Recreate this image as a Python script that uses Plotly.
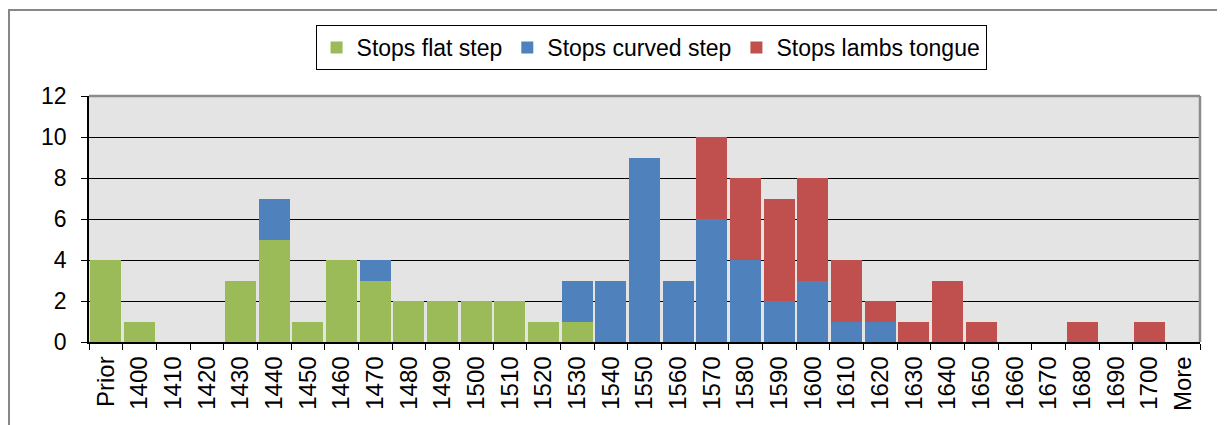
import plotly.graph_objects as go

categories = ["Prior", "1400", "1410", "1420", "1430", "1440", "1450", "1460", "1470",
              "1480", "1490", "1500", "1510", "1520", "1530", "1540", "1550", "1560",
              "1570", "1580", "1590", "1600", "1610", "1620", "1630", "1640", "1650",
              "1660", "1670", "1680", "1690", "1700", "More"]

flat_step = [4, 1, 0, 0, 3, 5, 1, 4, 3, 2, 2, 2, 2, 1, 1, 0, 0, 0,
             0, 0, 0, 0, 0, 0, 0, 0, 0, 0, 0, 0, 0, 0, 0]
curved_step = [0, 0, 0, 0, 0, 2, 0, 0, 1, 0, 0, 0, 0, 0, 2, 3, 9, 3,
               6, 4, 2, 3, 1, 1, 0, 0, 0, 0, 0, 0, 0, 0, 0]
lambs_tongue = [0, 0, 0, 0, 0, 0, 0, 0, 0, 0, 0, 0, 0, 0, 0, 0, 0, 0,
                4, 4, 5, 5, 3, 1, 1, 3, 1, 0, 0, 1, 0, 1, 0]

series_names = ["Stops flat step", "Stops curved step", "Stops lambs tongue"]
series_colors = ["#9BBB59", "#4F81BD", "#C0504D"]
y_ticks = [0, 2, 4, 6, 8, 10, 12]

fig = go.Figure()
for name, vals, col in zip(series_names, [flat_step, curved_step, lambs_tongue], series_colors):
    fig.add_trace(go.Bar(x=categories, y=vals, name=name,
                         marker=dict(color=col, line=dict(width=0))))

FONT = "Liberation Sans, Arial, sans-serif"

fig.update_layout(
    width=1217, height=417,
    barmode="stack", bargap=0.07,
    paper_bgcolor="white", plot_bgcolor="#e4e4e4",
    margin=dict(l=81, r=25, t=88, b=83, autoexpand=False),
    font=dict(family=FONT, color="black", size=22),
    showlegend=True,
    legend=dict(orientation="h", x=0.5059, xanchor="center", y=1.2886, yanchor="top",
                bordercolor="black", borderwidth=1, bgcolor="white",
                font=dict(size=23, family=FONT), traceorder="normal",
                itemwidth=30, tracegroupgap=0),
    xaxis=dict(type="category", tickangle=-90, tickson="boundaries",
               ticks="outside", ticklen=6, tickcolor="black", tickwidth=1,
               showline=True, linecolor="black", linewidth=1.5,
               tickfont=dict(size=24, family=FONT), showgrid=False,
               ticklabelstandoff=3,
               range=[-0.5, len(categories) - 0.5]),
    yaxis=dict(range=[0, 12], tickvals=y_ticks, ticktext=[str(v) for v in y_ticks],
               ticks="outside", ticklen=6, tickcolor="black", tickwidth=1,
               showline=True, linecolor="black", linewidth=1.5,
               showgrid=True, gridcolor="black", gridwidth=1, zeroline=False,
               tickfont=dict(size=23, family=FONT), ticklabelstandoff=10),
    shapes=[
        dict(type="rect", xref="paper", yref="paper", x0=-0.072, x1=1.1, y0=-0.5, y1=1.3496,
             line=dict(color="#878787", width=2), fillcolor="rgba(0,0,0,0)", layer="above"),
        dict(type="line", xref="paper", yref="paper", x0=0, x1=1, y0=1, y1=1,
             line=dict(color="#8c8c8c", width=2.5), layer="above"),
        dict(type="line", xref="paper", yref="paper", x0=1, x1=1, y0=0, y1=1,
             line=dict(color="#8c8c8c", width=2.5), layer="above"),
    ],
)

fig.write_html("out.html")
